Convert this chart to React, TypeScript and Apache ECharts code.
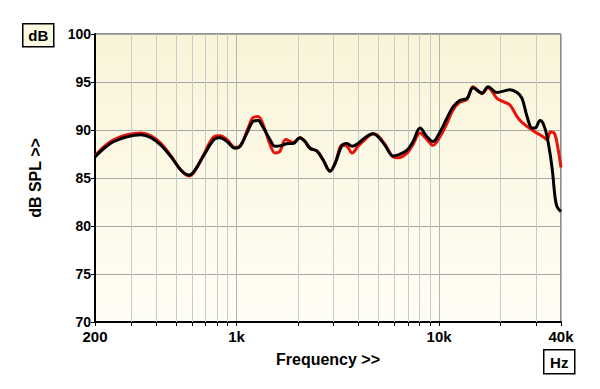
import React, { useEffect, useRef } from "react";
import * as echarts from "echarts";

// Frequency (Hz) / level (dB SPL) readings
const blackFreq = [200, 222, 248, 288, 337, 378, 424, 475, 532, 582, 617, 691, 774, 828, 897, 983, 1040, 1126, 1206, 1276, 1351, 1462, 1548, 1676, 1796, 1900, 2057, 2178, 2306, 2497, 2673, 2894, 3063, 3318, 3512, 3717, 3980, 4309, 4720, 4996, 5408, 5925, 6270, 6946, 7438, 8054, 8722, 9336, 10108, 10946, 11720, 12692, 13740, 14712, 16300, 17450, 19320, 22400, 24260, 25680, 27190, 28780, 29780, 31520, 32620, 34150, 36120, 37380, 38250, 40000];
const blackDb = [87.2, 88.1, 88.8, 89.3, 89.5, 89.2, 88.4, 87.2, 85.8, 85.3, 85.7, 87.4, 89.0, 89.2, 88.8, 88.1, 88.3, 89.7, 90.9, 91.0, 90.3, 89.0, 88.3, 88.4, 88.6, 88.6, 89.2, 88.8, 88.1, 87.8, 86.9, 85.7, 86.5, 88.4, 88.6, 88.3, 88.6, 89.2, 89.6, 89.3, 88.4, 87.3, 87.4, 87.9, 88.8, 90.2, 89.3, 88.8, 89.8, 91.25, 92.4, 93.1, 93.3, 94.4, 93.85, 94.5, 93.9, 94.2, 93.9, 93.3, 91.4, 90.2, 90.2, 91.0, 90.7, 89.3, 86.1, 83.0, 82.0, 81.5];

const redFreq = [200, 222, 248, 288, 337, 378, 424, 475, 532, 582, 617, 691, 774, 828, 897, 983, 1040, 1126, 1206, 1276, 1351, 1462, 1548, 1626, 1750, 1900, 2057, 2178, 2306, 2497, 2673, 2894, 3063, 3318, 3512, 3717, 3980, 4309, 4720, 4996, 5408, 5925, 6270, 6946, 7438, 8054, 8722, 9336, 10108, 10946, 11720, 12692, 13740, 14712, 16300, 17450, 19320, 21000, 22400, 24260, 25680, 28780, 32620, 34150, 35440, 37000, 38250, 40000];
const redDb = [87.3, 88.3, 89.0, 89.5, 89.7, 89.4, 88.6, 87.3, 85.8, 85.2, 85.6, 87.5, 89.3, 89.4, 89.0, 88.2, 88.3, 89.9, 91.3, 91.4, 90.6, 88.5, 87.6, 87.7, 89.0, 88.7, 89.2, 88.8, 88.1, 87.8, 86.9, 85.7, 86.5, 88.4, 88.3, 87.6, 88.3, 89.0, 89.6, 89.4, 88.5, 87.2, 87.1, 87.6, 88.5, 89.7, 89.0, 88.4, 89.3, 90.7, 92.1, 92.9, 93.2, 94.5, 93.8, 94.4, 93.3, 92.9, 92.6, 91.4, 90.8, 90.0, 89.3, 89.0, 89.8, 89.7, 88.6, 86.1];

const gridFreqs = [300, 400, 500, 600, 700, 800, 900, 2000, 3000, 4000, 5000, 6000, 7000, 8000, 9000, 20000, 30000];
const tickLabels: Record<number, string> = { 200: "200", 1000: "1k", 10000: "10k", 40000: "40k" };

const FONT = "'Liberation Sans', Arial, sans-serif";

export default function App() {
  const ref = useRef<HTMLDivElement>(null);
  useEffect(() => {
    if (!ref.current) return;
    const chart = echarts.init(ref.current, undefined, { renderer: "svg" });
    const zip = (xs: number[], ys: number[]) => xs.map((x, i) => [x, ys[i]]);
    chart.setOption({
      animation: false,
      backgroundColor: "#ffffff",
      grid: {
        left: 95,
        right: 39,
        top: 34,
        bottom: 67,
        show: true,
        borderColor: "#222",
        borderWidth: 1,
        backgroundColor: new echarts.graphic.LinearGradient(0, 0, 0, 1, [
          { offset: 0, color: "#f9f4d8" },
          { offset: 1, color: "#fffef5" },
        ]),
      },
      xAxis: {
        type: "log",
        logBase: 10,
        min: 200,
        max: 40000,
        name: "Frequency >>",
        nameLocation: "middle",
        nameGap: 29,
        nameTextStyle: { fontFamily: FONT, fontWeight: "bold", fontSize: 16, color: "#000" },
        axisLine: { show: true, onZero: false, lineStyle: { color: "#000", width: 2 } },
        axisTick: { show: true, length: 4, lineStyle: { color: "#000" } },
        axisLabel: {
          margin: 7,
          fontFamily: FONT,
          fontWeight: "bold",
          fontSize: 15,
          color: "#000",
          formatter: (v: number) => tickLabels[Math.round(v)] ?? "",
        },
        splitLine: { show: true, lineStyle: { color: "#b4b4b4", width: 1 } },
      },
      yAxis: {
        type: "value",
        min: 70,
        max: 100,
        interval: 5,
        name: "dB SPL >>",
        nameLocation: "middle",
        nameGap: 52,
        nameTextStyle: { fontFamily: FONT, fontWeight: "bold", fontSize: 16, color: "#000" },
        axisLine: { show: true, lineStyle: { color: "#000", width: 2 } },
        axisTick: { show: true, length: 4, lineStyle: { color: "#000" } },
        axisLabel: { margin: 4, fontFamily: FONT, fontWeight: "bold", fontSize: 14, color: "#000" },
        splitLine: { show: true, lineStyle: { color: "#a8a8a8", width: 1 } },
      },
      series: [
        {
          type: "custom",
          name: "grid",
          z: 1,
          clip: false,
          silent: true,
          data: gridFreqs.map((f) => [f]),
          renderItem: (params: any, api: any) => {
            const f = api.value(0);
            const top = api.coord([f, 100]);
            const bot = api.coord([f, 70]);
            return {
              type: "group",
              children: [
                {
                  type: "line",
                  shape: { x1: Math.round(bot[0]) + 0.5, y1: bot[1], x2: Math.round(top[0]) + 0.5, y2: top[1] },
                  style: { stroke: "#cacaca", lineWidth: 1 },
                },
                {
                  type: "line",
                  shape: { x1: Math.round(bot[0]) + 0.5, y1: bot[1] + 1, x2: Math.round(bot[0]) + 0.5, y2: bot[1] + 4 },
                  style: { stroke: "#000", lineWidth: 1 },
                },
              ],
            };
          },
        },
        {
          type: "line",
          name: "red",
          z: 3,
          data: zip(redFreq, redDb),
          smooth: 0.35,
          showSymbol: false,
          lineStyle: { color: "#e8140c", width: 3 },
        },
        {
          type: "line",
          name: "black",
          z: 4,
          data: zip(blackFreq, blackDb),
          smooth: 0.35,
          showSymbol: false,
          lineStyle: { color: "#000000", width: 3 },
        },
      ],
      graphic: [
        {
          type: "group",
          left: 22,
          top: 23,
          children: [
            { type: "rect", shape: { x: 0, y: 0, width: 31, height: 23 }, style: { fill: "#fcf9e2", stroke: "#000", lineWidth: 1.5 } },
            { type: "text", x: 15.5, y: 12, style: { text: "dB", fill: "#000", font: `bold 15px ${FONT}`, align: "center", verticalAlign: "middle" } },
          ],
        },
        {
          type: "group",
          left: 543,
          top: 349,
          children: [
            { type: "rect", shape: { x: 0, y: 0, width: 31, height: 24 }, style: { fill: "#ffffff", stroke: "#000", lineWidth: 1.5 } },
            { type: "text", x: 15.5, y: 12.5, style: { text: "Hz", fill: "#000", font: `bold 15px ${FONT}`, align: "center", verticalAlign: "middle" } },
          ],
        },
      ],
    });
    return () => chart.dispose();
  }, []);
  return <div ref={ref} style={{ width: 600, height: 389, position: "absolute", left: 0, top: 0 }} />;
}
